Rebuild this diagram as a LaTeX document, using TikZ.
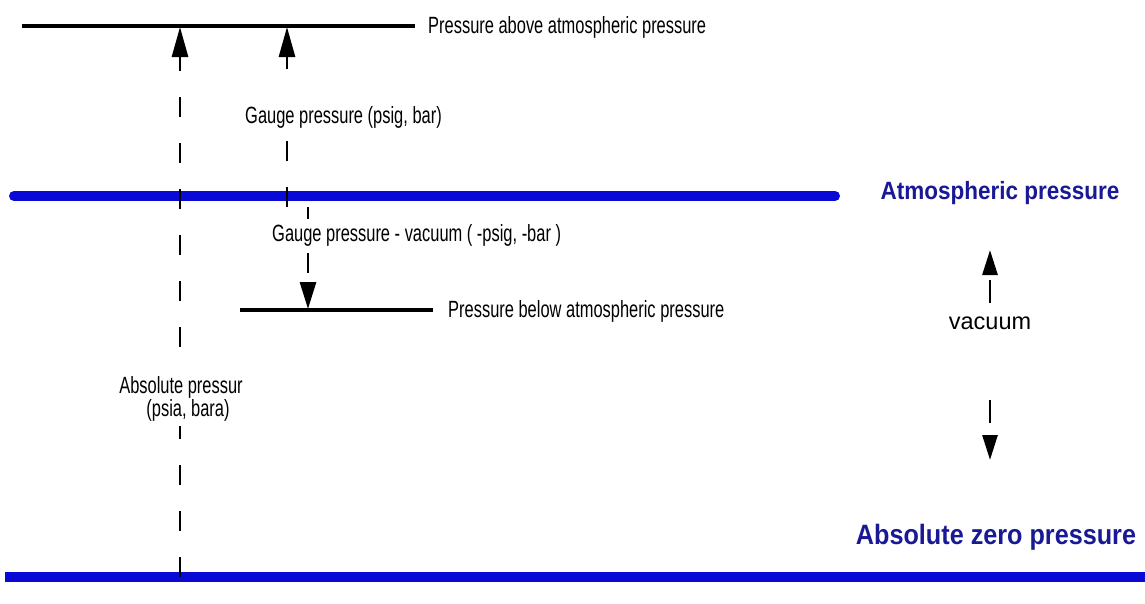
\documentclass[tikz,border=0pt]{standalone}
\usepackage{fontspec}
\setmainfont{Liberation Sans}
\newfontfamily\narrowfont{Liberation Sans}[FakeStretch=0.70]
\newfontfamily\bluefont{Liberation Sans Bold}[FakeStretch=0.9]
\usetikzlibrary{arrows.meta}
\definecolor{lineblue}{RGB}{10,10,215}
\definecolor{textblue}{RGB}{25,25,150}
\tikzset{
  level/.style={line width=3.5pt, black},
  blueline/.style={line width=10pt, lineblue},
  dasharrow/.style={line width=2.8pt, dash pattern=on 20pt off 26pt,
    -{Triangle[length=30pt,width=16pt]}},
  smalltext/.style={font=\narrowfont\fontsize{23.5}{26}\selectfont, inner sep=0pt},
  labelbox/.style={smalltext, fill=white, inner xsep=2pt, inner ysep=5pt},
  bluetext/.style={font=\bluefont\fontsize{25}{28}\selectfont, text=textblue, inner sep=0pt},
  vactext/.style={font=\fontsize{23.5}{26}\selectfont, inner sep=0pt},
  vacarrow/.style={line width=2.8pt, dash pattern=on 23pt off 40pt,
    -{Triangle[length=25pt,width=15pt]}}
}
\begin{document}
\begin{tikzpicture}[x=1pt,y=-1pt]
\useasboundingbox[fill=white] (0,0) rectangle (1145,603);

% levels
\coordinate (topL) at (22,26);
\coordinate (topR) at (415,26);
\coordinate (atmL) at (14,196);
\coordinate (atmR) at (835,196);
\coordinate (zeroL) at (5,577);
\coordinate (zeroR) at (1145,577);
\coordinate (belowL) at (240,310);
\coordinate (belowR) at (433,310);

\draw[level] (topL) -- (topR);
\draw[blueline, line cap=round] (atmL) -- (atmR);
\draw[blueline] (zeroL) -- (zeroR);
\draw[level] (belowL) -- (belowR);

% level labels
\node[smalltext, anchor=west] (above) at (428,27) {Pressure above atmospheric pressure};
\node[smalltext, anchor=west] (below) at (448,311) {Pressure below atmospheric pressure};
\node[bluetext] (atm) at (1000,193) {Atmospheric pressure};
\node[bluetext, font=\bluefont\fontsize{28}{32}\selectfont] (zero) at (996,537) {Absolute zero pressure};

% absolute pressure arrow
\coordinate (absB) at (180,577);
\coordinate (absT) at (180,27);
\draw[dasharrow] (absB) -- (absT);
\node[labelbox, align=center] (abslbl) at (181,399) {Absolute pressur\\[-3pt]\hspace*{14pt}(psia, bara)};

% gauge pressure arrow
\coordinate (gB) at (287,207);
\coordinate (gT) at (287,27);
\draw[dasharrow] (gB) -- (gT);
\node[labelbox, anchor=west, inner ysep=11pt] (glbl) at (243,117) {Gauge pressure (psig, bar)};

% gauge vacuum arrow
\coordinate (vT) at (308,207);
\coordinate (vB) at (308,309);
\draw[dasharrow, -{Triangle[length=27pt,width=16pt]}] (vT) -- (vB);
\node[labelbox, anchor=west] (vlbl) at (270,235) {Gauge pressure - vacuum ( -psig, -bar )};

% vacuum
\node[vactext] (vac) at (990,323) {vacuum};
\coordinate (vacUpS) at (990,303);
\coordinate (vacUpE) at (990,250);
\coordinate (vacDnS) at (990,400);
\coordinate (vacDnE) at (990,460);
\draw[vacarrow] (vacUpS) -- (vacUpE);
\draw[vacarrow] (vacDnS) -- (vacDnE);
\end{tikzpicture}
\end{document}
